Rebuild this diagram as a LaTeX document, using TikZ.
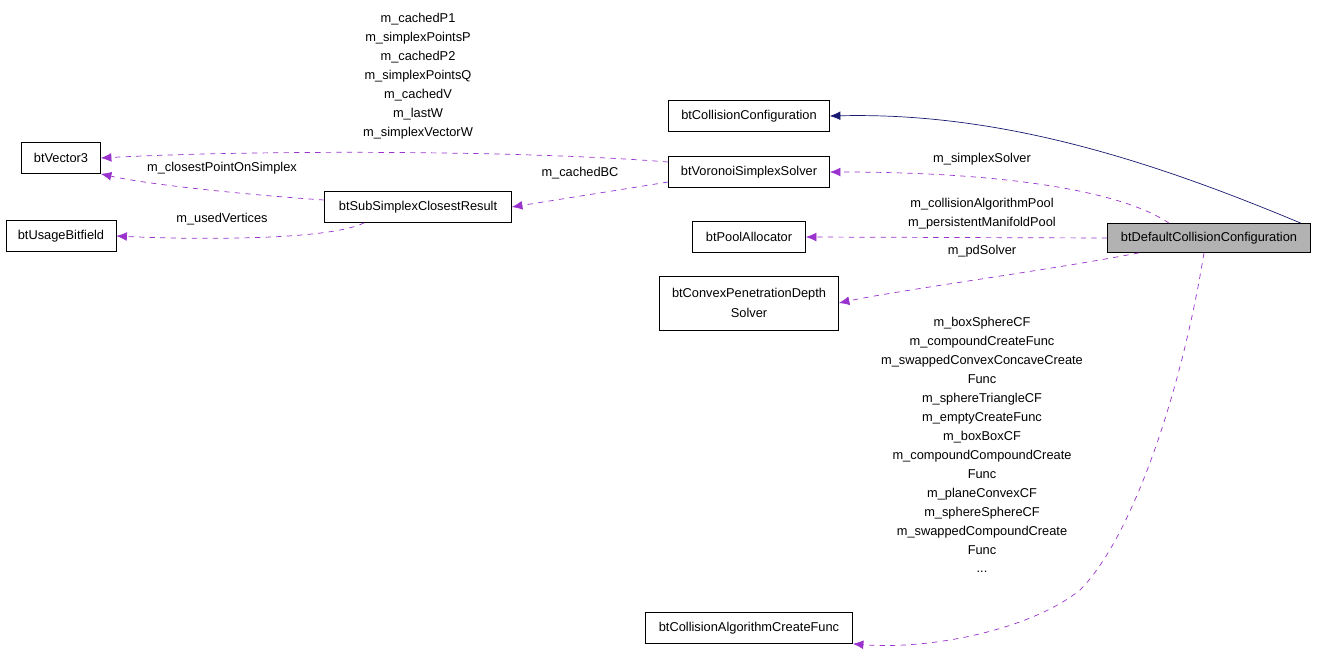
\documentclass[tikz,border=0pt]{standalone}
\usepackage{fontspec}
\setmainfont{Liberation Sans}
\usetikzlibrary{arrows.meta}
\begin{document}
\begin{tikzpicture}[x=0.02cm,y=-0.02cm]
		\tikzstyle{Class}	= [draw, fill=white, font=\fontsize{7.3}{11}\selectfont, inner sep=2pt, minimum height=0.62cm, align=center]
		\tikzstyle{Main}	= [Class, fill=gray!60]
		\tikzstyle{Uses}	= [dashed, color={rgb,255:red,154;green,50;blue,205}, -{Latex[length=6pt,width=5pt]}]
		\tikzstyle{Inherits}	= [color={rgb,255:red,25;green,25;blue,112}, -{Latex[length=6pt,width=5pt]}]
		\tikzstyle{Lbl}		= [font=\fontsize{7.3}{10.8}\selectfont, align=center, inner sep=1pt]
		\useasboundingbox (0,0) rectangle (1317,653);

		\node (cfg)  at (749,116) [Class, minimum width=3.22cm] {btCollisionConfiguration};
		\node (vor)  at (749,172) [Class, minimum width=3.22cm] {btVoronoiSimplexSolver};
		\node (pool) at (749,237) [Class, minimum width=2.26cm] {btPoolAllocator};
		\node (pen)  at (749,303) [Class, minimum width=3.58cm, minimum height=1.08cm] {btConvexPenetrationDepth\\Solver};
		\node (cf)   at (749,628) [Class, minimum width=4.14cm] {btCollisionAlgorithmCreateFunc};
		\node (def)  at (1209,238) [Main, minimum width=4.06cm, minimum height=0.58cm] {btDefaultCollisionConfiguration};
		\node (vec)  at (61,158) [Class, minimum width=1.58cm] {btVector3};
		\node (bits) at (61,236) [Class, minimum width=2.2cm] {btUsageBitfield};
		\node (sub)  at (418,207) [Class, minimum width=3.74cm] {btSubSimplexClosestResult};

		\draw [Inherits] (def.north east) ++(-10,0) .. controls (1150,160) and (1000,112) .. (cfg.east);
		\draw [Uses] (def.north) ++(-40,0) .. controls (1120,190) and (1000,172) .. (vor.east);
		\draw [Uses] (def.west) -- (pool.east);
		\draw [Uses] (def.south) ++(-70,0) .. controls (1050,270) and (900,290) .. (pen.east);
		\draw [Uses] (def.south) ++(-5,0) .. controls (1180,400) and (1130,540) .. (1080,590) .. controls (1030,630) and (930,650) .. (cf.south east);
		\draw [Uses] (vor.west) ++(0,-10) .. controls (520,150) and (250,150) .. (vec.east);
		\draw [Uses] (vor.west) ++(0,10) -- (sub.east);
		\draw [Uses] (sub.west) ++(0,-7) .. controls (250,195) and (150,185) .. (vec.south east);
		\draw [Uses] (sub.south west) ++(40,0) .. controls (330,240) and (200,240) .. (bits.east);

		\node (l1) at (982,159) [Lbl] {m\_simplexSolver};
		\node (l2) at (982,214) [Lbl] {m\_collisionAlgorithmPool\\m\_persistentManifoldPool};
		\node (l3) at (982,251) [Lbl] {m\_pdSolver};
		\node (l4) at (982,445) [Lbl] {m\_boxSphereCF\\m\_compoundCreateFunc\\m\_swappedConvexConcaveCreate\\Func\\m\_sphereTriangleCF\\m\_emptyCreateFunc\\m\_boxBoxCF\\m\_compoundCompoundCreate\\Func\\m\_planeConvexCF\\m\_sphereSphereCF\\m\_swappedCompoundCreate\\Func\\...};
		\node (l5) at (418,76) [Lbl] {m\_cachedP1\\m\_simplexPointsP\\m\_cachedP2\\m\_simplexPointsQ\\m\_cachedV\\m\_lastW\\m\_simplexVectorW};
		\node (l6) at (580,173) [Lbl] {m\_cachedBC};
		\node (l7) at (222,168) [Lbl] {m\_closestPointOnSimplex};
		\node (l8) at (222,219) [Lbl] {m\_usedVertices};
	\end{tikzpicture}
\end{document}
